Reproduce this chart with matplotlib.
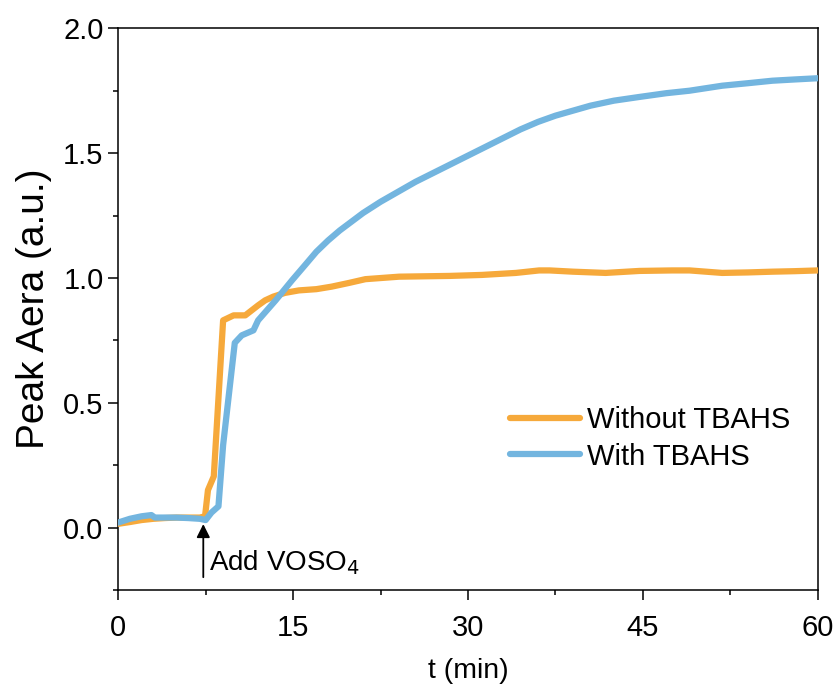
import numpy as np
import matplotlib
matplotlib.use('Agg')
import matplotlib.pyplot as plt
from matplotlib.ticker import MultipleLocator

plt.rcParams['font.family'] = ['Liberation Sans', 'DejaVu Sans']

# Without TBAHS (orange)
t_without = [0, 1, 2, 3, 4, 5, 6, 7, 7.45, 7.7, 8.2, 9.0, 9.9, 10.9, 11.45, 12.0, 12.6,
             13.3, 14.3, 15.5, 17.0, 18.3, 19.8, 21.2, 24.1, 28.4, 31.2, 34.1, 36.1, 37.0,
             39.0, 41.8, 44.7, 47.5, 49.0, 51.8, 54.0, 56.1, 58.0, 60.0]
v_without = [0.015, 0.022, 0.03, 0.035, 0.038, 0.04, 0.04, 0.04, 0.045, 0.15, 0.205, 0.83,
             0.85, 0.85, 0.87, 0.89, 0.91, 0.925, 0.94, 0.95, 0.955, 0.965, 0.98, 0.995,
             1.005, 1.008, 1.012, 1.02, 1.03, 1.03, 1.025, 1.02, 1.028, 1.03, 1.03, 1.02,
             1.022, 1.025, 1.027, 1.03]

# With TBAHS (blue)
t_with = [0, 1, 2, 2.85, 3.15, 4, 5, 6, 7, 7.5, 8.0, 8.6, 9.0, 10.0, 10.6, 11.6, 12.0,
          13.5, 14.9, 16.0, 17.0, 18.0, 19.0, 20.0, 21.0, 22.5, 24.0, 25.5, 27.0, 28.5,
          30.0, 31.5, 33.0, 34.5, 36.0, 37.5, 39.0, 40.5, 42.5, 44.7, 47.0, 49.0, 51.8,
          54.0, 56.1, 58.0, 60.0]
v_with = [0.02, 0.035, 0.045, 0.05, 0.04, 0.04, 0.04, 0.038, 0.035, 0.03, 0.06, 0.085,
          0.33, 0.74, 0.77, 0.79, 0.83, 0.91, 0.99, 1.05, 1.105, 1.15, 1.19, 1.225, 1.26,
          1.305, 1.345, 1.385, 1.42, 1.455, 1.49, 1.525, 1.56, 1.595, 1.625, 1.65, 1.67,
          1.69, 1.71, 1.725, 1.74, 1.75, 1.77, 1.78, 1.79, 1.795, 1.80]

c_without = '#F6A93B'
c_with = '#73B5DF'

fig = plt.figure(figsize=(8.38, 6.9), dpi=100)
ax = fig.add_axes([0.141, 0.145, 0.835, 0.814])

ax.plot(t_without, v_without, color=c_without, lw=4.5, label='Without TBAHS', zorder=3,
        solid_capstyle='round', solid_joinstyle='round')
ax.plot(t_with, v_with, color=c_with, lw=4.5, label='With TBAHS', zorder=4,
        solid_capstyle='round', solid_joinstyle='round')

ax.set_xlim(0, 60)
ax.set_ylim(-0.25, 2.0)
ax.xaxis.set_major_locator(MultipleLocator(15))
ax.xaxis.set_minor_locator(MultipleLocator(7.5))
ax.yaxis.set_major_locator(MultipleLocator(0.5))
ax.yaxis.set_minor_locator(MultipleLocator(0.25))
ax.tick_params(which='major', direction='out', length=7, width=1.1, labelsize=21,
               top=False, right=False)
ax.tick_params(which='minor', direction='out', length=3.5, width=1.1,
               top=False, right=False)
ax.tick_params(axis='x', pad=10)
for s in ax.spines.values():
    s.set_linewidth(1.1)

ax.set_xlabel('t (min)', fontsize=20.5, labelpad=12)
ax.set_ylabel('Peak Aera (a.u.)', fontsize=28, labelpad=8)

ax.annotate('', xy=(7.3, 0.025), xytext=(7.3, -0.21),
            arrowprops=dict(arrowstyle='-|>', color='black', lw=1.3, mutation_scale=20))
ax.text(7.75, -0.14, 'Add VOSO$_4$', fontsize=20, va='center', ha='left')

ax.legend(loc='center left', bbox_to_anchor=(0.56, 0.27), frameon=False, fontsize=21,
          borderpad=0, borderaxespad=0,
          handlelength=2.4, handletextpad=0.25, labelspacing=0.3)

fig.savefig('out.png', dpi=100)
